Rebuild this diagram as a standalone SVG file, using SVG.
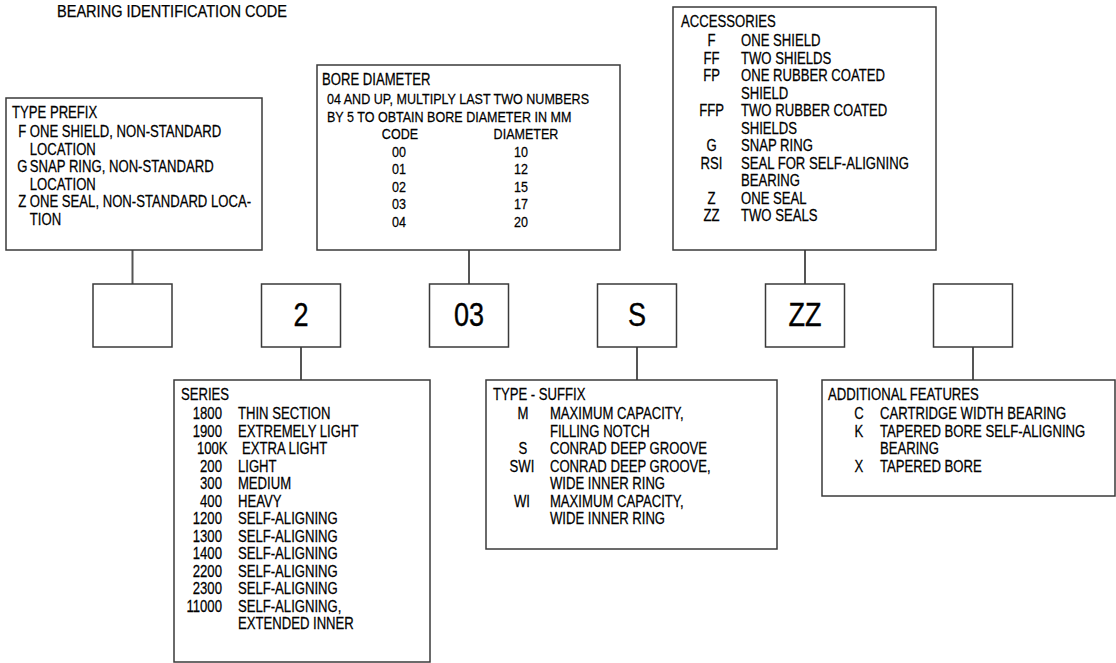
<svg xmlns="http://www.w3.org/2000/svg" width="1116" height="663" viewBox="0 0 1116 663">
<style>
text{font-family:"Liberation Sans",Arial,sans-serif;font-size:16px;fill:#000;stroke:#000;stroke-width:0.25}
.box{fill:#fff;stroke:#3a3a3a;stroke-width:1.5}
.code{font-size:33px;text-anchor:middle;stroke-width:0.4}
.c{text-anchor:middle}
.r{text-anchor:end}
.s{font-size:15.3px}
.conn line{stroke:#555;stroke-width:2}
</style>
<rect width="1116" height="663" fill="#fff"/>
<text id="title" x="57" y="17" font-size="15" textLength="230" lengthAdjust="spacingAndGlyphs">BEARING IDENTIFICATION CODE</text>

<g class="conn" id="connectors">
<line x1="132.5" y1="250" x2="132.5" y2="284"/>
<line x1="469" y1="250" x2="469" y2="284"/>
<line x1="805" y1="250" x2="805" y2="284"/>
<line x1="301" y1="347" x2="301" y2="380"/>
<line x1="637" y1="347" x2="637" y2="380"/>
<line x1="973" y1="347" x2="973" y2="380"/>
</g>

<g id="type-prefix">
<rect class="box" x="6" y="98" width="256" height="152"/>
<g transform="translate(6 0) scale(0.82 1)">
<text x="7.3" y="118">TYPE PREFIX</text>
<text x="15" y="137.5">F</text><text x="29" y="137.5">ONE SHIELD, NON-STANDARD</text>
<text x="29" y="155">LOCATION</text>
<text x="13.8" y="172.5">G</text><text x="29" y="172.5">SNAP RING, NON-STANDARD</text>
<text x="29" y="190">LOCATION</text>
<text x="15" y="207.5">Z</text><text x="29" y="207.5">ONE SEAL, NON-STANDARD LOCA-</text>
<text x="29" y="225">TION</text>
</g>
</g>

<g id="bore-diameter">
<rect class="box" x="317" y="65" width="303" height="185"/>
<g transform="translate(317 0) scale(0.82 1)">
<text x="6.1" y="85">BORE DIAMETER</text>
<text class="s" x="12.2" y="104.5">04 AND UP, MULTIPLY LAST TWO NUMBERS</text>
<text class="s" x="12.2" y="122">BY 5 TO OBTAIN BORE DIAMETER IN MM</text>
<text x="101.2" y="139.5" class="c s">CODE</text><text x="254.9" y="139.5" class="c s">DIAMETER</text>
<text x="100" y="157" class="c s">00</text><text x="248.8" y="157" class="c s">10</text>
<text x="100" y="174.5" class="c s">01</text><text x="248.8" y="174.5" class="c s">12</text>
<text x="100" y="192" class="c s">02</text><text x="248.8" y="192" class="c s">15</text>
<text x="100" y="209.5" class="c s">03</text><text x="248.8" y="209.5" class="c s">17</text>
<text x="100" y="227" class="c s">04</text><text x="248.8" y="227" class="c s">20</text>
</g>
</g>

<g id="accessories">
<rect class="box" x="673" y="7" width="263" height="243"/>
<g transform="translate(673 0) scale(0.82 1)">
<text x="9.8" y="27">ACCESSORIES</text>
<text x="47" y="46.5" class="c">F</text><text x="82.9" y="46.5">ONE SHIELD</text>
<text x="47" y="64" class="c">FF</text><text x="82.9" y="64">TWO SHIELDS</text>
<text x="47" y="81.5" class="c">FP</text><text x="82.9" y="81.5">ONE RUBBER COATED</text>
<text x="82.9" y="99">SHIELD</text>
<text x="47" y="116.5" class="c">FFP</text><text x="82.9" y="116.5">TWO RUBBER COATED</text>
<text x="82.9" y="134">SHIELDS</text>
<text x="47" y="151.5" class="c">G</text><text x="82.9" y="151.5">SNAP RING</text>
<text x="47" y="169" class="c">RSI</text><text x="82.9" y="169">SEAL FOR SELF-ALIGNING</text>
<text x="82.9" y="186.5">BEARING</text>
<text x="47" y="204" class="c">Z</text><text x="82.9" y="204">ONE SEAL</text>
<text x="47" y="221.5" class="c">ZZ</text><text x="82.9" y="221.5">TWO SEALS</text>
</g>
</g>

<g id="code-prefix"><rect class="box" x="93" y="284" width="79" height="63"/></g>
<g id="code-series"><rect class="box" x="261.5" y="284" width="79" height="63"/><text class="code" transform="translate(301 0) scale(0.82 1)" x="0" y="326">2</text></g>
<g id="code-bore"><rect class="box" x="429.5" y="284" width="79" height="63"/><text class="code" transform="translate(469 0) scale(0.82 1)" x="0" y="326">03</text></g>
<g id="code-suffix"><rect class="box" x="597.5" y="284" width="79" height="63"/><text class="code" transform="translate(637 0) scale(0.82 1)" x="0" y="326">S</text></g>
<g id="code-accessories"><rect class="box" x="765.5" y="284" width="79" height="63"/><text class="code" transform="translate(805 0) scale(0.82 1)" x="0" y="326">ZZ</text></g>
<g id="code-features"><rect class="box" x="933.5" y="284" width="79" height="63"/></g>

<g id="series">
<rect class="box" x="174" y="380" width="256" height="282"/>
<g transform="translate(174 0) scale(0.82 1)">
<text x="8.5" y="400">SERIES</text>
<text x="58.5" y="419.5" class="r">1800</text><text x="78" y="419.5">THIN SECTION</text>
<text x="58.5" y="437" class="r">1900</text><text x="78" y="437">EXTREMELY LIGHT</text>
<text x="28" y="454.5">100K</text><text x="82.9" y="454.5">EXTRA LIGHT</text>
<text x="58.5" y="472" class="r">200</text><text x="78" y="472">LIGHT</text>
<text x="58.5" y="489.5" class="r">300</text><text x="78" y="489.5">MEDIUM</text>
<text x="58.5" y="507" class="r">400</text><text x="78" y="507">HEAVY</text>
<text x="58.5" y="524.5" class="r">1200</text><text x="78" y="524.5">SELF-ALIGNING</text>
<text x="58.5" y="542" class="r">1300</text><text x="78" y="542">SELF-ALIGNING</text>
<text x="58.5" y="559.5" class="r">1400</text><text x="78" y="559.5">SELF-ALIGNING</text>
<text x="58.5" y="577" class="r">2200</text><text x="78" y="577">SELF-ALIGNING</text>
<text x="58.5" y="594.5" class="r">2300</text><text x="78" y="594.5">SELF-ALIGNING</text>
<text x="58.5" y="612" class="r">11000</text><text x="78" y="612">SELF-ALIGNING,</text>
<text x="78" y="629.5">EXTENDED INNER</text>
</g>
</g>

<g id="type-suffix">
<rect class="box" x="486" y="380" width="291" height="169"/>
<g transform="translate(486 0) scale(0.82 1)">
<text x="8.5" y="400">TYPE - SUFFIX</text>
<text x="45.1" y="419.5" class="c">M</text><text x="78" y="419.5">MAXIMUM CAPACITY,</text>
<text x="78" y="437">FILLING NOTCH</text>
<text x="45.1" y="454.5" class="c">S</text><text x="78" y="454.5">CONRAD DEEP GROOVE</text>
<text x="43.9" y="472" class="c">SWI</text><text x="78" y="472">CONRAD DEEP GROOVE,</text>
<text x="78" y="489.5">WIDE INNER RING</text>
<text x="43.9" y="507" class="c">WI</text><text x="78" y="507">MAXIMUM CAPACITY,</text>
<text x="78" y="524.5">WIDE INNER RING</text>
</g>
</g>

<g id="additional-features">
<rect class="box" x="822" y="380" width="293" height="116"/>
<g transform="translate(822 0) scale(0.82 1)">
<text x="7.3" y="400">ADDITIONAL FEATURES</text>
<text x="45.1" y="419.5" class="c">C</text><text x="70.7" y="419.5">CARTRIDGE WIDTH BEARING</text>
<text x="45.1" y="437" class="c">K</text><text x="70.7" y="437">TAPERED BORE SELF-ALIGNING</text>
<text x="70.7" y="454.5">BEARING</text>
<text x="45.1" y="472" class="c">X</text><text x="70.7" y="472">TAPERED BORE</text>
</g>
</g>
</svg>
